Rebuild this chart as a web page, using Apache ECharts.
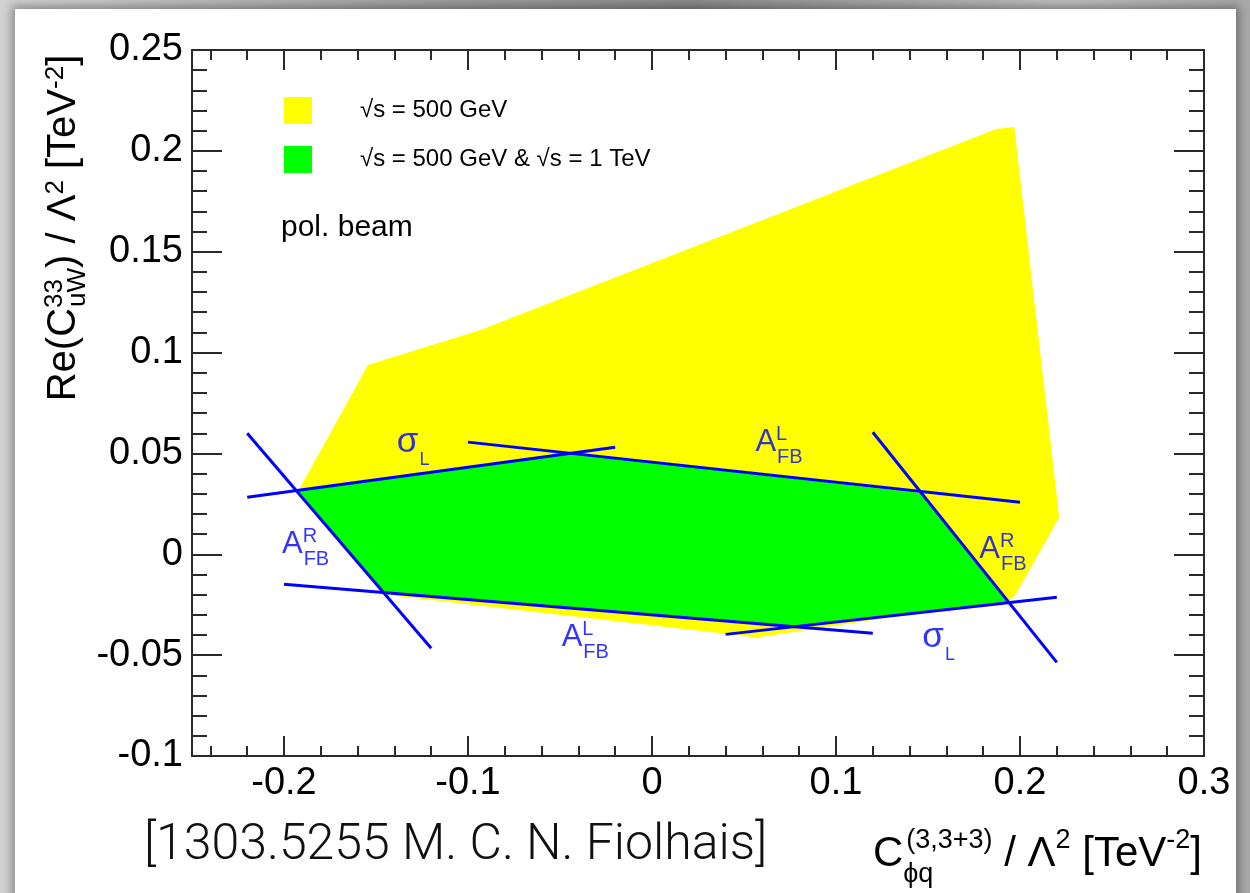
<!DOCTYPE html>
<html>
<head>
<meta charset="utf-8">
<title>Re(C_uW^33) vs C_phiq^(3,3+3)</title>
<script src="https://cdn.jsdelivr.net/npm/echarts@6.0.0/dist/echarts.min.js"></script>
<style>
html, body { margin:0; padding:0; width:1250px; height:893px; overflow:hidden; }
body { position:relative; background: linear-gradient(to right, #d2d2d2 0%, #a0a0a0 35%, #8c8c8c 55%, #c0c0c0 85%, #a8a8a8 100%); }
#card { position:absolute; left:15px; top:9px; width:1221px; height:900px; background:#ffffff; box-shadow: 0 0 9px 3px rgba(0,0,0,0.35); }
#chart { position:absolute; left:0; top:0; width:1250px; height:893px; }
</style>
</head>
<body>
<div id="card"></div>
<div id="chart"></div>
<script>
// ---------------- data ----------------
const xMin = -0.25, xMax = 0.3, yMin = -0.1, yMax = 0.25;
const xMajorTicks = [-0.2, -0.1, 0, 0.1, 0.2, 0.3];
const xTickLabels = ['-0.2', '-0.1', '0', '0.1', '0.2', '0.3'];
const yMajorTicks = [-0.1, -0.05, 0, 0.05, 0.1, 0.15, 0.2, 0.25];
const yTickLabels = ['-0.1', '-0.05', '0', '0.05', '0.1', '0.15', '0.2', '0.25'];
const xMinorTicks = [];
for (let k = -12; k <= 15; k++) xMinorTicks.push(+(k * 0.02).toFixed(2));
const yMinorTicks = [];
for (let k = -10; k <= 25; k++) yMinorTicks.push(+(k * 0.01).toFixed(2));

// allowed region, sqrt(s) = 500 GeV (yellow)
const yellowX = [-0.1544, -0.0936, 0.1871, 0.1969, 0.2077, 0.2213, 0.1980, 0.1931, 0.125, 0.090, 0.0568, 0.033, -0.1425, -0.1463, -0.1914];
const yellowY = [0.0938, 0.1111, 0.2108, 0.2118, 0.1260, 0.0184, -0.0193, -0.0243, -0.0318, -0.0368, -0.0412, -0.0387, -0.0203, -0.0188, 0.0327];
// allowed region, sqrt(s) = 500 GeV & 1 TeV (green)
const greenX = [-0.1924, -0.0464, 0.1464, 0.1931, 0.0785, -0.1463];
const greenY = [0.0317, 0.0501, 0.0303, -0.0238, -0.0362, -0.0188];

// blue constraint lines
const lineNames  = ['AFB_R left', 'sigmaL upper', 'AFB_L upper', 'AFB_R right', 'sigmaL lower', 'AFB_L lower'];
const lineStartX = [-0.22, -0.22, -0.10, 0.12, 0.04, -0.20];
const lineStartY = [0.0600, 0.0283, 0.0556, 0.0605, -0.0397, -0.0149];
const lineEndX   = [-0.12, -0.02, 0.20, 0.22, 0.22, 0.12];
const lineEndY   = [-0.0466, 0.0531, 0.0258, -0.0536, -0.0213, -0.0392];

// line annotations (anchor = left edge / vertical middle of the main glyph)
const annotX = [-0.1387, 0.0562, -0.2011, 0.1779, -0.0491, 0.1469];
const annotY = [0.0554, 0.0554, 0.0048, 0.0023, -0.0413, -0.0413];
const annotText = ['{s|σ}{ss|L}', '{a|A}{sp|L}{sb|FB}', '{a|A}{sp|R}{sb|FB}', '{a|A}{sp|R}{sb|FB}', '{a|A}{sp|L}{sb|FB}', '{s|σ}{ss|L}'];

const legendNames = ['√s = 500 GeV', '√s = 500 GeV & √s = 1 TeV'];

// ---------------- chart ----------------
const FONT = "'Liberation Sans', Arial, Helvetica, sans-serif";
const BLUE = '#0000ff';
const AXIS_COLOR = '#2a2a2a';

const chart = echarts.init(document.getElementById('chart'), null, { renderer: 'canvas' });

const gridRect = { left: 192, top: 50, width: 1012, height: 706, containLabel: false, outerBoundsMode: 'none' };
const grids = [0, 1, 2, 3].map(() => Object.assign({}, gridRect));

function lookup(vals, labels) {
  return function (v) {
    for (let i = 0; i < vals.length; i++) if (Math.abs(vals[i] - v) < 1e-9) return labels[i];
    return '';
  };
}

function mkAxis(dim, gridIndex, position, ticks, len, showLine, labels) {
  const isX = dim === 'x';
  const ax = {
    type: 'value', gridIndex: gridIndex, position: position,
    min: isX ? xMin : yMin, max: isX ? xMax : yMax,
    axisLine: { show: showLine, onZero: false, lineStyle: { color: AXIS_COLOR, width: 2 } },
    axisTick: { show: true, inside: true, length: len, customValues: ticks, lineStyle: { color: AXIS_COLOR, width: 2 } },
    splitLine: { show: false },
    minorTick: { show: false },
    axisLabel: { show: false }
  };
  if (labels) {
    ax.axisLabel = {
      show: true, customValues: ticks,
      formatter: lookup(ticks, labels),
      color: '#000', fontFamily: FONT, fontSize: 38,
      margin: 9
    };
  }
  return ax;
}

const xAxes = [
  mkAxis('x', 0, 'bottom', xMajorTicks, 20, true, xTickLabels),
  mkAxis('x', 1, 'bottom', xMinorTicks, 10, false, null),
  mkAxis('x', 2, 'top', xMajorTicks, 20, true, null),
  mkAxis('x', 3, 'top', xMinorTicks, 10, false, null)
];
const yAxes = [
  mkAxis('y', 0, 'left', yMajorTicks, 30, true, yTickLabels),
  mkAxis('y', 1, 'left', yMinorTicks, 15, false, null),
  mkAxis('y', 2, 'right', yMajorTicks, 30, true, null),
  mkAxis('y', 3, 'right', yMinorTicks, 15, false, null)
];

function polygonSeries(name, xs, ys, color, z) {
  const pts = xs.map((x, i) => [x, ys[i]]);
  return {
    type: 'custom', name: name, coordinateSystem: 'cartesian2d', xAxisIndex: 0, yAxisIndex: 0,
    itemStyle: { color: color }, z: z, silent: true, animation: false,
    data: pts,
    renderItem: function (params, api) {
      if (params.dataIndex !== 0) return null;
      const points = pts.map(p => api.coord(p));
      return { type: 'polygon', shape: { points: points }, style: { fill: color } };
    }
  };
}

const series = [
  polygonSeries(legendNames[0], yellowX, yellowY, '#ffff00', 1),
  polygonSeries(legendNames[1], greenX, greenY, '#00ff00', 2)
];
lineNames.forEach((nm, i) => {
  series.push({
    type: 'line', name: nm, xAxisIndex: 0, yAxisIndex: 0,
    data: [[lineStartX[i], lineStartY[i]], [lineEndX[i], lineEndY[i]]],
    symbol: 'none', showSymbol: false, silent: true, animation: false, z: 5,
    lineStyle: { color: BLUE, width: 3, cap: 'butt' }
  });
});

// rich text: sup / sub positioned with top padding (verticalAlign top => centre = padTop + fontSize/2)
const annRich = {
  a:  { fontFamily: FONT, fontSize: 31, lineHeight: 50, color: BLUE, align: 'left' },
  s:  { fontFamily: FONT, fontSize: 35, lineHeight: 52, color: BLUE, align: 'left' },
  sp: { fontFamily: FONT, fontSize: 20, lineHeight: 20, verticalAlign: 'top', padding: [7, 0, 0, 0], width: 1, color: BLUE, align: 'left' },
  sb: { fontFamily: FONT, fontSize: 20, lineHeight: 20, verticalAlign: 'top', padding: [30, 0, 0, 0], color: BLUE, align: 'left' },
  ss: { fontFamily: FONT, fontSize: 18, lineHeight: 18, verticalAlign: 'top', padding: [34, 0, 0, 1], color: BLUE, align: 'left' }
};
series.push({
  type: 'scatter', name: 'annotations', xAxisIndex: 0, yAxisIndex: 0,
  symbolSize: 0, silent: true, animation: false, z: 6,
  data: annotX.map((x, i) => ({ value: [x, annotY[i]], label: { formatter: annotText[i] } })),
  label: { show: true, position: 'right', distance: 0, color: BLUE, rich: annRich }
});

const titleRichY = {
  m:  { fontFamily: FONT, fontSize: 40, lineHeight: 60, fill: '#000', align: 'left' },
  sp: { fontFamily: FONT, fontSize: 26, lineHeight: 26, verticalAlign: 'top', padding: [9, 0, 0, 0], fill: '#000', align: 'left' },
  sp1:{ fontFamily: FONT, fontSize: 26, lineHeight: 26, verticalAlign: 'top', padding: [8, 0, 0, 0], width: 1, fill: '#000', align: 'left' },
  sb: { fontFamily: FONT, fontSize: 26, lineHeight: 26, verticalAlign: 'top', padding: [31, 0, 0, 0], fill: '#000', align: 'left' }
};
const titleRichX = {
  m:  { fontFamily: FONT, fontSize: 42, lineHeight: 78, fill: '#000', align: 'left' },
  sp: { fontFamily: FONT, fontSize: 27, lineHeight: 27, verticalAlign: 'top', padding: [12, 0, 0, 0], fill: '#000', align: 'left' },
  sb1:{ fontFamily: FONT, fontSize: 27, lineHeight: 27, verticalAlign: 'top', padding: [46, 0, 0, 0], width: 3, fill: '#000', align: 'left' }
};

const option = {
  backgroundColor: 'transparent',
  animation: false,
  grid: grids,
  xAxis: xAxes,
  yAxis: yAxes,
  legend: {
    data: legendNames,
    orient: 'vertical', left: 284, top: 97, padding: 0,
    itemWidth: 28, itemHeight: 27, itemGap: 22,
    icon: 'rect', selectedMode: false,
    textStyle: { fontFamily: FONT, fontSize: 24, color: '#000', padding: [0, 0, 0, 43] }
  },
  graphic: [
    { type: 'text', left: 281, top: 213, silent: true,
      style: { text: 'pol. beam', fontFamily: FONT, fontSize: 30, fill: '#000' } },
    { type: 'text', x: 64, y: 228, rotation: Math.PI / 2, silent: true,
      style: { text: '{m|Re(C}{sp1|33}{sb|uW}{m|) / Λ}{sp|2}{m| [TeV}{sp|-2}{m|]}',
               rich: titleRichY, align: 'center', verticalAlign: 'middle' } },
    { type: 'text', x: 1202, y: 854, silent: true,
      style: { text: '{m|C}{sb1|ϕq}{sp|(3,3+3)}{m| / Λ}{sp|2}{m| [TeV}{sp|-2}{m|]}',
               rich: titleRichX, align: 'right', verticalAlign: 'middle' } },
    { type: 'text', x: 144, y: 846, silent: true,
      style: { text: '[1303.5255 M. C. N. Fiolhais]', fontFamily: "Roboto, 'Open Sans', sans-serif",
               fontWeight: 300, fontSize: 50, fill: '#111', align: 'left', verticalAlign: 'middle' } }
  ],
  series: series
};
chart.setOption(option);
</script>
</body>
</html>
